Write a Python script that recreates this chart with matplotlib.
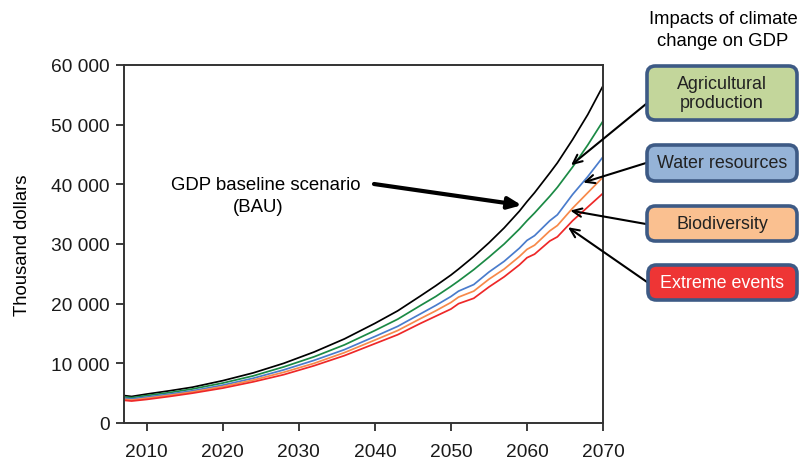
import matplotlib
matplotlib.use("Agg")
import matplotlib.pyplot as plt
from matplotlib.patches import FancyBboxPatch
from matplotlib.ticker import FuncFormatter

plt.rcParams['font.family'] = ['Liberation Sans', 'DejaVu Sans']

years = [2007, 2008, 2010, 2013, 2016, 2020, 2024, 2028, 2032, 2036, 2040, 2043, 2046,
         2048, 2050, 2051, 2053, 2055, 2057, 2059, 2060, 2061, 2063, 2064, 2066, 2068, 2070]

baseline = [4600, 4450, 4850, 5400, 6000, 7100, 8400, 10000, 11900, 14100, 16700, 18800, 21300,
            23000, 24800, 25800, 27900, 30200, 32700, 35500, 37100, 38600, 41900, 43600, 47500, 51700, 56500]
agriculture = [4380, 4250, 4600, 5100, 5700, 6700, 7900, 9400, 11100, 13100, 15500, 17400, 19700,
               21200, 22900, 23800, 25700, 27800, 30000, 32500, 33900, 35200, 38000, 39500, 42900, 46600, 50600]
water = [4150, 4050, 4350, 4850, 5400, 6350, 7500, 8900, 10500, 12300, 14500, 16200, 18300,
         19700, 21200, 22100, 23200, 25300, 27100, 29300, 30600, 31400, 33900, 34900, 38300, 41300, 44600]
biodiversity = [3970, 3850, 4150, 4650, 5200, 6100, 7200, 8500, 10000, 11800, 13900, 15500, 17500,
                18800, 20200, 21100, 22100, 24100, 25800, 27900, 29100, 29800, 32200, 33100, 36000, 38600, 41200]
extreme = [3800, 3680, 3950, 4450, 5000, 5850, 6900, 8100, 9600, 11300, 13300, 14800, 16700,
           17900, 19100, 20000, 20900, 22800, 24500, 26500, 27700, 28300, 30500, 31200, 33900, 36200, 38500]

x_ticks = [2010, 2020, 2030, 2040, 2050, 2060, 2070]
y_ticks = [0, 10000, 20000, 30000, 40000, 50000, 60000]

box_labels = ["Agricultural\nproduction", "Water resources", "Biodiversity", "Extreme events"]
box_fills = ["#c3d69b", "#95b3d7", "#fac090", "#ee3535"]
box_text_colors = ["#222222", "#222222", "#222222", "white"]

W, H = 799, 460
fig = plt.figure(figsize=(W / 100, H / 100), dpi=100)
ax = fig.add_axes([124 / W, 1 - 424 / H, (603 - 124) / W, (424 - 66) / H])

ax.plot(years, baseline, color="black", lw=1.25)
ax.plot(years, agriculture, color="#1b8a45", lw=1.25)
ax.plot(years, water, color="#4a7ccc", lw=1.25)
ax.plot(years, biodiversity, color="#f7894a", lw=1.25)
ax.plot(years, extreme, color="#ee2828", lw=1.25)

ax.set_xlim(2007, 2070)
ax.set_ylim(0, 60000)
ax.set_xticks(x_ticks)
ax.set_yticks(y_ticks)
ax.yaxis.set_major_formatter(FuncFormatter(lambda v, p: "{:,}".format(int(v)).replace(",", " ")))
ax.tick_params(direction="out", length=6, width=1.2, labelsize=13.8, colors="#1a1a1a", pad=4.5)
ax.tick_params(axis="x", pad=8.5)
for s in ax.spines.values():
    s.set_linewidth(1.4)
    s.set_color("#333333")
ax.set_ylabel("Thousand dollars", fontsize=13.3, labelpad=14)

# Baseline annotation
fig.text(266 / W, 1 - 185 / H, "GDP baseline scenario", ha="center", va="center", fontsize=13.4)
fig.text(258 / W, 1 - 208 / H, "(BAU)", ha="center", va="center", fontsize=13.4)
ax.annotate("", xy=(2059.3, 36500), xycoords="data",
            xytext=(374 / W, 1 - 185 / H), textcoords="figure fraction",
            arrowprops=dict(arrowstyle="-|>,head_length=0.8,head_width=0.35", lw=3, color="black",
                            shrinkA=0, shrinkB=0))

# Right-hand title
fig.text(723 / W, 1 - 20 / H, "Impacts of climate", ha="center", va="center", fontsize=13.3)
fig.text(723 / W, 1 - 42 / H, "change on GDP", ha="center", va="center", fontsize=13.3)

boxes = [(647, 67, 797, 121), (647, 146, 797, 182), (647, 207, 797, 242), (648, 266, 797, 301)]
for (x0, y0, x1, y1), lab, fc, tc in zip(boxes, box_labels, box_fills, box_text_colors):
    p = FancyBboxPatch((x0 / W, 1 - y1 / H), (x1 - x0) / W, (y1 - y0) / H,
                       boxstyle="round,pad=0,rounding_size=0.0105",
                       mutation_aspect=W / H,
                       transform=fig.transFigure, facecolor=fc, edgecolor="#3d5a85", lw=2.6,
                       clip_on=False)
    fig.add_artist(p)
    fig.text((x0 + x1) / 2 / W, 1 - (y0 + y1) / 2 / H, lab, ha="center", va="center",
             fontsize=12.9, color=tc, linespacing=1.15)

arrow_targets = [(2065.8, 43200), (2067.4, 40300), (2065.7, 35600), (2065.4, 32800)]
arrow_starts = [(646, 105), (646, 164), (646, 225), (647, 283)]
for (tx, ty), (sx, sy) in zip(arrow_targets, arrow_starts):
    ax.annotate("", xy=(tx, ty), xycoords="data",
                xytext=(sx / W, 1 - sy / H), textcoords="figure fraction",
                arrowprops=dict(arrowstyle="->,head_length=0.65,head_width=0.3", lw=1.5,
                                color="black", shrinkA=0, shrinkB=0),
                annotation_clip=False)

fig.savefig("out.png", dpi=100)
